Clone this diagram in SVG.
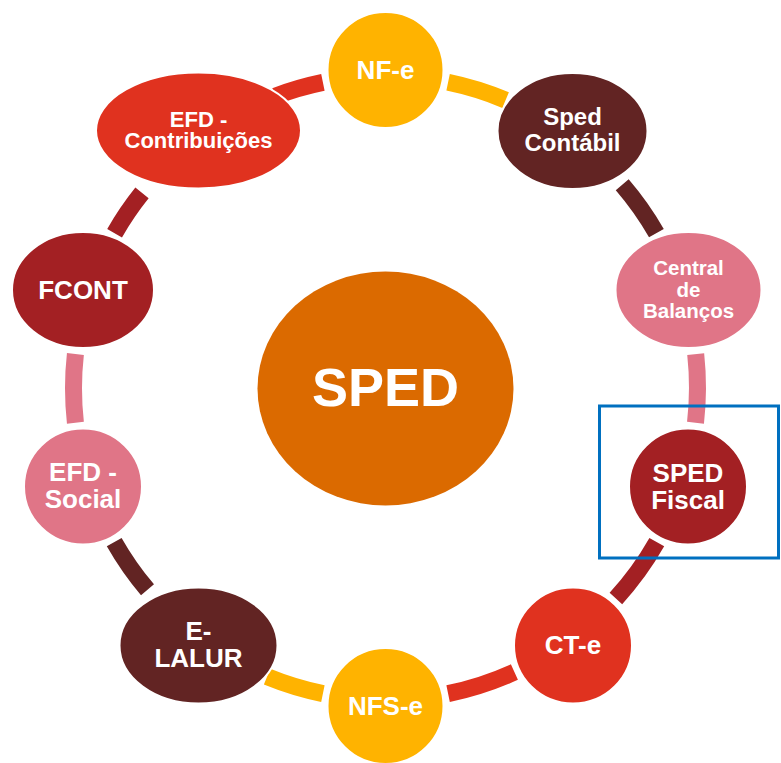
<svg xmlns="http://www.w3.org/2000/svg" width="781" height="763" viewBox="0 0 781 763">
<style>
.n{stroke:#fff;stroke-width:2}
.t{font-family:"Liberation Sans",Arial,sans-serif;font-weight:bold;fill:#fff;text-anchor:middle}
.a{fill:none;stroke-width:17;stroke-linecap:butt}
.y{fill:#FFB300}.br{fill:#622423}.pk{fill:#E07587}.dr{fill:#A32023}.rd{fill:#E0321F}
</style>
<rect width="781" height="763" fill="#fff"/>
<g id="connectors">
<path class="a" stroke="#FFB300" d="M448.1,82.3 A312,312 0 0 1 505.6,100.1"/>
<path class="a" stroke="#622423" d="M622.2,184.7 A312,312 0 0 1 656.4,233.1"/>
<path class="a" stroke="#E07587" d="M695.7,354.1 A312,312 0 0 1 695.5,422.8"/>
<path class="a" stroke="#A32023" d="M656.8,542.1 A312,312 0 0 1 615.9,598.4"/>
<path class="a" stroke="#E0321F" d="M514.4,672.1 A312,312 0 0 1 448.1,693.7"/>
<path class="a" stroke="#FFB300" d="M322.9,693.7 A312,312 0 0 1 267.1,676.7"/>
<path class="a" stroke="#622423" d="M147.5,589.8 A312,312 0 0 1 114.2,542.1"/>
<path class="a" stroke="#E07587" d="M75.4,422.8 A312,312 0 0 1 75.4,354.0"/>
<path class="a" stroke="#A32023" d="M114.6,233.2 A312,312 0 0 1 142.0,192.9"/>
<path class="a" stroke="#E0321F" d="M275.3,96.1 A312,312 0 0 1 322.9,82.3"/>
</g>
<g id="sped">
<ellipse cx="385.5" cy="388.5" rx="128" ry="117" fill="#DB6A00"/>
<text class="t" x="385.5" y="406" font-size="54">SPED</text>
</g>
<g id="nfe">
<ellipse class="n y" cx="385.5" cy="70" rx="58" ry="58"/>
<text class="t" x="385.5" y="79" font-size="26">NF-e</text>
</g>
<g id="sped-contabil">
<ellipse class="n br" cx="572.5" cy="131" rx="75" ry="58"/>
<text class="t" font-size="24"><tspan x="572.5" y="125">Sped</tspan><tspan x="572.5" y="151">Contábil</tspan></text>
</g>
<g id="central-balancos">
<ellipse class="n pk" cx="688.5" cy="290" rx="73" ry="58"/>
<text class="t" font-size="20.5"><tspan x="688.5" y="275">Central</tspan><tspan x="688.5" y="297">de</tspan><tspan x="688.5" y="318">Balanços</tspan></text>
</g>
<g id="sped-fiscal">
<ellipse class="n dr" cx="688" cy="486.5" rx="59" ry="58"/>
<text class="t" font-size="26"><tspan x="688" y="482">SPED</tspan><tspan x="688" y="509">Fiscal</tspan></text>
</g>
<g id="cte">
<ellipse class="n rd" cx="573" cy="645.5" rx="59" ry="58"/>
<text class="t" x="573" y="654" font-size="26">CT-e</text>
</g>
<g id="nfse">
<ellipse class="n y" cx="385.5" cy="706" rx="58" ry="58"/>
<text class="t" x="385.5" y="715" font-size="26">NFS-e</text>
</g>
<g id="e-lalur">
<ellipse class="n br" cx="198.5" cy="645.5" rx="79" ry="58"/>
<text class="t" font-size="26"><tspan x="198.5" y="640">E-</tspan><tspan x="198.5" y="667">LALUR</tspan></text>
</g>
<g id="efd-social">
<ellipse class="n pk" cx="83" cy="486.5" rx="59" ry="58"/>
<text class="t" font-size="26"><tspan x="83" y="481">EFD -</tspan><tspan x="83" y="508">Social</tspan></text>
</g>
<g id="fcont">
<ellipse class="n dr" cx="83" cy="290" rx="71" ry="58"/>
<text class="t" x="83" y="299" font-size="26">FCONT</text>
</g>
<g id="efd-contribuicoes">
<ellipse class="n rd" cx="198.5" cy="130.5" rx="102.5" ry="58"/>
<text class="t" font-size="22"><tspan x="198.5" y="127">EFD -</tspan><tspan x="198.5" y="148">Contribuições</tspan></text>
</g>
<rect id="highlight" x="599.5" y="406" width="179" height="152" fill="none" stroke="#0070C0" stroke-width="3"/>
</svg>
